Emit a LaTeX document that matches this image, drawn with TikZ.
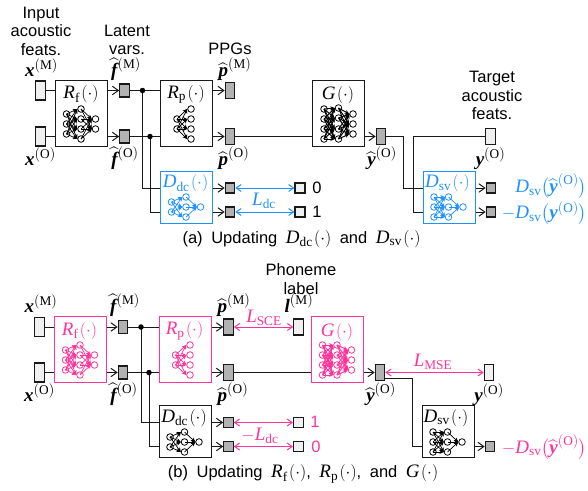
\documentclass[tikz,border=0pt]{standalone}
\usepackage{amsmath}
\usepackage{fontspec}
\setmainfont{Liberation Sans}
\newfontfamily\mf{Liberation Serif}
\usetikzlibrary{arrows.meta,calc}
\definecolor{bl}{RGB}{30,144,255}
\definecolor{pk}{RGB}{255,51,153}
\definecolor{dk}{RGB}{25,25,25}
\newcommand\ti[1]{\text{\mf\itshape #1}}
\newcommand\tu[1]{\text{\mf #1}}
\newcommand\tb[1]{\text{\mf\bfseries\itshape #1}}
\newcommand\sM{^{(\tu{M})}}
\newcommand\sO{^{(\tu{O})}}
\newcommand\dt{\mkern1.5mu(\cdot)}
\newcommand\Rf{\ti{R}_{\tu{f}}\dt}
\newcommand\Rp{\ti{R}_{\tu{p}}\dt}
\newcommand\Gf{\ti{G}\dt}
\newcommand\Ddc{\ti{D}_{\tu{dc}}\dt}
\newcommand\Dsv{\ti{D}_{\tu{sv}}\dt}
\newcommand\hh[2]{\mathord{\ooalign{$\tb{#1}\vphantom{\tb{f}}$\cr\hidewidth\smash{\raisebox{#2}{$\widehat{\phantom{\tb{x}}}$}}\hidewidth\cr}}}
\newcommand\hf{\hh{f}{3.8pt}}
\newcommand\hp{\hh{p}{-0.3pt}}
\newcommand\hy{\hh{y}{-0.3pt}}
\newcommand\cmt[1]{{\fontsize{19}{20}\selectfont$#1$}}
\newcommand\gp{\hspace{4pt}}
\newcommand\nnet[6]{%
  \foreach \yy in {#4}{\node[netn] (#1-a-\yy) at (#3+0,\yy) {};}
  \foreach \yy in {#5}{\node[netn] (#1-b-\yy) at (#3+14.5,\yy) {};}
  \foreach \yy in {#6}{\node[netn] (#1-c-\yy) at (#3+29,\yy) {};}
  \foreach \ya in {#4}{\foreach \yb in {#5}{\draw[nete] (#1-a-\ya.center) -- (#1-b-\yb.west);}}
  \foreach \ya in {#5}{\foreach \yb in {#6}{\draw[nete] (#1-b-\ya.center) -- (#1-c-\yb.west);}}
}
\tikzset{
  lab/.style={font=\fontsize{16.5}{18.5}\selectfont,align=center,inner sep=0pt},
  mlab/.style={font=\fontsize{19}{21}\selectfont,inner sep=0pt},
  sym/.style={mlab,anchor=base},
  blockbox/.style={draw=#1,line width=1.2pt,fill=white,minimum width=52pt,inner sep=0pt},
  tall/.style={minimum height=66pt},
  short/.style={minimum height=52pt},
  ltin/.style={draw=dk,line width=1.1pt,fill=black!6,minimum width=9.5pt,minimum height=19pt,inner sep=0pt},
  grbox/.style={draw=dk,line width=1.1pt,fill=black!30,minimum width=9.5pt,minimum height=16pt,inner sep=0pt},
  grlat/.style={grbox,minimum height=13pt},
  grsm/.style={grbox,minimum height=10pt},
  ltsm/.style={draw=dk,line width=1.1pt,fill=black!6,minimum width=10pt,minimum height=10pt,inner sep=0pt},
  conn/.style={draw=dk,line width=1pt},
  arr/.style={conn,-{Straight Barb[length=6pt,width=8.5pt]}},
  bi/.style={line width=1pt,draw=#1,{Straight Barb[length=5pt,width=7pt]}-{Straight Barb[length=5pt,width=7pt]}},
  jdot/.style={circle,fill=black,inner sep=0pt,minimum size=5.5pt},
  netn/.style={circle,draw=netc,fill=white,line width=.8pt,inner sep=0pt,minimum size=6.6pt},
  nete/.style={draw=netc,line width=.7pt,-{Stealth[length=4.5pt,width=4pt]}},
  dense/.style={nete/.append style={line width=.95pt}},
}
\colorlet{netc}{black}
\begin{document}
\begin{tikzpicture}[x=1pt,y=-1pt]
\useasboundingbox (0,0) rectangle (588,490);
% ---------- (a) ----------
\node[lab] (t1) at (41,31) {Input\\acoustic\\feats.};
\node[lab] (t2) at (127,40) {Latent\\vars.};
\node[lab] (t3) at (230,49) {PPGs};
\node[lab] (t4) at (492,95.5) {Target\\acoustic\\feats.};
\node[sym] (lxm) at (41.5,76) {$\tb{x}\sM$};
\node[sym] (lxo) at (40.5,165) {$\tb{x}\sO$};
\node[sym] (lfm) at (126,76) {$\hf\sM$};
\node[sym] (lfo) at (125,165) {$\hf\sO$};
\node[sym] (lpm) at (235,76) {$\hp\sM$};
\node[sym] (lpo) at (234,165) {$\hp\sO$};
\node[sym] (lyh) at (382,165) {$\hy\sO$};
\node[sym] (lyo) at (490.5,165) {$\tb{y}\sO$};
\node[ltin] (xm) at (40.5,90.5) {};
\node[ltin] (xo) at (40.5,136.5) {};
\node[blockbox=dk,tall,anchor=north west] (rf) at (54.5,80) {};
\node[blockbox=dk,tall,anchor=north west] (rp) at (160,80) {};
\node[blockbox=dk,tall,anchor=north west] (g) at (312,80) {};
\node[blockbox=bl,short,anchor=north west] (ddc) at (160,171) {};
\node[blockbox=bl,short,anchor=north west] (dsv) at (422.5,171) {};
\node[grlat] (fm) at (124.5,90.5) {};
\node[grlat] (fo) at (124.5,136.5) {};
\node[grbox] (pm) at (230,90.5) {};
\node[grbox] (po) at (230,136.5) {};
\node[grbox] (yh) at (381,136.5) {};
\node[ltin,minimum height=16pt] (yo) at (490.5,136.5) {};
\node[grsm] (d1) at (230,188) {};
\node[grsm] (d2) at (230,212) {};
\node[ltsm] (z0) at (300,188) {};
\node[ltsm] (z1) at (300,212) {};
\node[grsm] (s1) at (491,188) {};
\node[grsm] (s2) at (491,212) {};
\node[mlab] at (81,94.5) {$\Rf$};
\node[mlab] at (186,94.5) {$\Rp$};
\node[mlab] at (338,95) {$\Gf$};
\node[mlab,text=bl] at (185.5,183.5) {$\Ddc$};
\node[mlab,text=bl] at (447.5,183.5) {$\Dsv$};
\nnet{na}{black}{66.5}{114,124,134}{109,119,129,139}{119,129}
\foreach \yy in {119,129}{\node[netn] (nbl\yy) at (177,\yy) {};}
\foreach \yy in {109,119,129,139}{\node[netn] (nbm\yy) at (191,\yy) {};\foreach \ya in {119,129}{\draw[nete] (nbl\ya.center) -- (nbm\yy.west);}}
\begin{scope}[dense]
\nnet{nc}{black}{324}{109,119,129,139}{108,118,129,139}{114,124,134}
\end{scope}
\begin{scope}
\colorlet{netc}{bl}
\nnet{nd}{bl}{171.5}{202,212}{197,207,217}{207}
\nnet{ne}{bl}{434}{197,207,217}{197,207,217}{207}
\end{scope}
\coordinate (j1) at (142.5,90.5);
\coordinate (j2) at (150,136.5);
\draw[conn] (xm) -- (xm -| rf.west);
\draw[conn] (xo) -- (xo -| rf.west);
\draw[arr] (fm -| rf.east) -- (fm.west);
\draw[arr] (fo -| rf.east) -- (fo.west);
\draw[conn] (fm.east) -- (fm -| rp.west);
\draw[conn] (fo.east) -- (fo -| rp.west);
\draw[arr] (pm -| rp.east) -- (pm.west);
\draw[arr] (po -| rp.east) -- (po.west);
\draw[conn] (po.east) -- (po -| g.west);
\draw[arr] (yh -| g.east) -- (yh.west);
\draw[conn] (j1) -- (j1 |- d1) -- (d1 -| ddc.west);
\draw[conn] (j2) -- (j2 |- d2) -- (d2 -| ddc.west);
\node[jdot] at (j1) {};
\node[jdot] at (j2) {};
\draw[arr] (d1 -| ddc.east) -- (d1.west);
\draw[arr] (d2 -| ddc.east) -- (d2.west);
\draw[bi=bl] (d1.east) -- (z0.west);
\draw[bi=bl] (d2.east) -- (z1.west);
\node[mlab,text=bl] at (264,201) {$\ti{L}_{\tu{dc}}$};
\node[lab,anchor=center] at (317,187.5) {0};
\node[lab,anchor=center] at (317,212) {1};
\coordinate (b1) at (403,136.5);
\coordinate (b2) at (413,136.5);
\draw[conn] (yh.east) -- (b1) -- (b1 |- d1) -- (d1 -| dsv.west);
\draw[conn] (yo.west) -- (b2) -- (b2 |- d2) -- (d2 -| dsv.west);
\draw[arr] (s1 -| dsv.east) -- (s1.west);
\draw[arr] (s2 -| dsv.east) -- (s2.west);
\node[mlab,text=bl,anchor=east] at (587,186.5) {$\ti{D}_{\tu{sv}}\bigl(\hy\sO\bigr)$};
\node[mlab,text=bl,anchor=east] at (587,213) {$-\ti{D}_{\tu{sv}}\bigl(\tb{y}\sO\bigr)$};
\node[lab] at (301.5,239) {(a)\gp{} Updating\gp{} \cmt{\Ddc}\gp{} and\gp{} \cmt{\Dsv}};
% ---------- (b) ----------
\node[lab] (t5) at (301,279) {Phoneme\\label};
\node[sym] (lxmb) at (41,312) {$\tb{x}\sM$};
\node[sym] (lxob) at (39.5,401) {$\tb{x}\sO$};
\node[sym] (lfmb) at (125,312) {$\hf\sM$};
\node[sym] (lfob) at (124,401) {$\hf\sO$};
\node[sym] (lpmb) at (234,312) {$\hp\sM$};
\node[sym] (lpob) at (233,401) {$\hp\sO$};
\node[sym] (llm) at (299,312) {$\tb{l}\sM$};
\node[sym] (lyhb) at (381,401) {$\hy\sO$};
\node[sym] (lyob) at (489,401) {$\tb{y}\sO$};
\node[ltin] (bxm) at (39.5,327) {};
\node[ltin] (bxo) at (39.5,372.5) {};
\node[blockbox=pk,tall,anchor=north west] (brf) at (53.5,316) {};
\node[blockbox=pk,tall,anchor=north west] (brp) at (158.5,316) {};
\node[blockbox=pk,tall,anchor=north west] (bg) at (311,316) {};
\node[blockbox=dk,short,anchor=north west] (bddc) at (158.5,405) {};
\node[blockbox=dk,short,anchor=north west] (bdsv) at (421.5,405) {};
\node[grlat] (bfm) at (123,327) {};
\node[grlat] (bfo) at (123,372.5) {};
\node[grbox] (bpm) at (228.5,327) {};
\node[grbox] (bpo) at (228.5,372.5) {};
\node[ltin,minimum height=16pt] (blm) at (298.5,327) {};
\node[grbox] (byh) at (380,372.5) {};
\node[ltin,minimum height=16pt] (byo) at (489,372.5) {};
\node[grsm] (bd1) at (228.5,422.5) {};
\node[grsm] (bd2) at (228.5,446.5) {};
\node[ltsm] (bz1) at (298.5,422.5) {};
\node[ltsm] (bz0) at (298.5,446.5) {};
\node[grsm] (bs) at (490,446.5) {};
\node[mlab,text=pk] at (79.5,331) {$\Rf$};
\node[mlab,text=pk] at (184.5,331) {$\Rp$};
\node[mlab,text=pk] at (337,332) {$\Gf$};
\node[mlab] at (184,418) {$\Ddc$};
\node[mlab] at (446,418) {$\Dsv$};
\begin{scope}
\colorlet{netc}{pk}
\nnet{pa}{pk}{65.5}{350,360,370}{345,355,365,375}{355,365}
\foreach \yy in {355,365}{\node[netn] (pbl\yy) at (175.5,\yy) {};}
\foreach \yy in {345,355,365,375}{\node[netn] (pbm\yy) at (190,\yy) {};\foreach \ya in {355,365}{\draw[nete] (pbl\ya.center) -- (pbm\yy.west);}}
\begin{scope}[dense]
\nnet{pc}{pk}{322.5}{345,355,365,375}{345,355,365,375}{350,360,370}
\end{scope}
\end{scope}
\nnet{pd}{black}{170}{437,447}{432,442,452}{442}
\nnet{pe}{black}{433}{432,442,452}{432,442,452}{442}
\coordinate (bj1) at (141,327);
\coordinate (bj2) at (149,372.5);
\draw[conn] (bxm) -- (bxm -| brf.west);
\draw[conn] (bxo) -- (bxo -| brf.west);
\draw[arr] (bfm -| brf.east) -- (bfm.west);
\draw[arr] (bfo -| brf.east) -- (bfo.west);
\draw[conn] (bfm.east) -- (bfm -| brp.west);
\draw[conn] (bfo.east) -- (bfo -| brp.west);
\draw[arr] (bpm -| brp.east) -- (bpm.west);
\draw[arr] (bpo -| brp.east) -- (bpo.west);
\draw[conn] (bpo.east) -- (bpo -| bg.west);
\draw[arr] (byh -| bg.east) -- (byh.west);
\draw[conn] (bj1) -- (bj1 |- bd1) -- (bd1 -| bddc.west);
\draw[conn] (bj2) -- (bj2 |- bd2) -- (bd2 -| bddc.west);
\node[jdot] at (bj1) {};
\node[jdot] at (bj2) {};
\draw[arr] (bd1 -| bddc.east) -- (bd1.west);
\draw[arr] (bd2 -| bddc.east) -- (bd2.west);
\draw[bi=pk] (bpm.east) -- (blm.west);
\draw[bi=pk] (bd1.east) -- (bz1.west);
\draw[bi=pk] (bd2.east) -- (bz0.west);
\draw[bi=pk] (byh.east) -- (byo.west);
\node[mlab,text=pk] at (264,318) {$\ti{L}_{\tu{SCE}}$};
\node[mlab,text=pk] at (260,436) {$-\ti{L}_{\tu{dc}}$};
\node[mlab,text=pk] at (433,362) {$\ti{L}_{\tu{MSE}}$};
\node[lab,text=pk] at (315,422) {1};
\node[lab,text=pk] at (316,447) {0};
\coordinate (bb) at (412.5,378);
\draw[conn] (byh.east |- bb) -- (bb) -- (bb |- bs) -- (bs -| bdsv.west);
\draw[arr] (bs -| bdsv.east) -- (bs.west);
\node[mlab,text=pk,anchor=east] at (587,447) {$-\ti{D}_{\tu{sv}}\bigl(\hy\sO\bigr)$};
\node[lab] at (303,474) {(b)\gp{} Updating\gp{} \cmt{\Rf},\gp{} \cmt{\Rp},\gp{} and\gp{} \cmt{\Gf}};
\end{tikzpicture}
\end{document}
